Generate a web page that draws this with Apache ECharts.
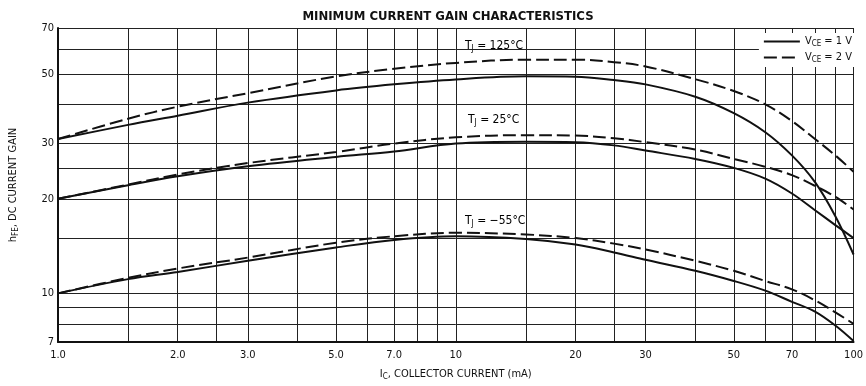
<!DOCTYPE html>
<html><head><meta charset="utf-8">
<script src="https://cdn.jsdelivr.net/npm/echarts@6/dist/echarts.min.js"></script>
<style>html,body{margin:0;padding:0;background:#fff}#c{width:866px;height:386px}</style>
</head><body><div id="c"></div>
<script>
const collectorCurrent = [1, 1.5, 2, 3, 5, 7, 10, 15, 20, 25, 30, 40, 50, 60, 70, 80, 90, 100];
const gain125_1V = [31, 34.4, 36.8, 40.5, 44.3, 46.3, 48.0, 49.1, 49.0, 47.8, 46.3, 42.3, 37.5, 32.6, 27.5, 22.6, 17.6, 13.3];
const gain125_2V = [31, 36.0, 39.3, 43.4, 49.1, 51.9, 54.2, 55.5, 55.5, 54.5, 52.8, 48.1, 44.1, 40.0, 35.4, 31.0, 27.5, 24.4];
const gain25_1V  = [20, 22.1, 23.6, 25.4, 27.2, 28.3, 30.0, 30.4, 30.3, 29.6, 28.5, 26.8, 25.1, 23.2, 20.8, 18.4, 16.5, 15.0];
const gain25_2V  = [20, 22.2, 23.9, 26.0, 28.2, 30.0, 31.4, 31.9, 31.8, 31.2, 30.3, 28.7, 26.8, 25.3, 23.8, 22.0, 20.3, 18.5];
const gainM55_1V = [10, 11.1, 11.7, 12.7, 14.0, 14.8, 15.2, 14.9, 14.3, 13.5, 12.8, 11.8, 10.95, 10.2, 9.4, 8.75, 7.9, 7.05];
const gainM55_2V = [10, 11.2, 12.0, 13.0, 14.5, 15.2, 15.6, 15.4, 15.0, 14.4, 13.8, 12.7, 11.8, 10.95, 10.3, 9.5, 8.7, 8.0];

const xGridValues = [1, 1.5, 2, 2.5, 3, 4, 5, 6, 7, 8, 9, 10, 15, 20, 25, 30, 40, 50, 60, 70, 80, 90, 100];
const xLabelValues = [1, 2, 3, 5, 7, 10, 20, 30, 50, 70, 100];
const xLabelTexts = ['1.0', '2.0', '3.0', '5.0', '7.0', '10', '20', '30', '50', '70', '100'];
const yGridValues = [7, 8, 9, 10, 15, 20, 25, 30, 40, 50, 60, 70];
const yLabelValues = [7, 10, 20, 30, 50, 70];
const yLabelTexts = ['7', '10', '20', '30', '50', '70'];

const FONT = "'Liberation Sans Narrow', 'DejaVu Sans Condensed', 'Roboto Condensed', sans-serif";
function pair(v, t) { const m = {}; v.forEach((x, i) => m[Math.round(x * 100) / 100] = t[i]); return m; }
const xMap = pair(xLabelValues, xLabelTexts), yMap = pair(yLabelValues, yLabelTexts);

const rich = {
  n: { fontFamily: FONT, fontSize: 11, color: '#111' },
  s: { fontFamily: FONT, fontSize: 8, color: '#111', padding: [5, 0, 0, 0] }
};
const richBig = {
  n: { fontFamily: FONT, fontSize: 12, color: '#111' },
  s: { fontFamily: FONT, fontSize: 8, color: '#111', padding: [6, 0, 0, 0] }
};

function line(name, data, dashed) {
  return {
    type: 'line', name: name, symbol: 'none', smooth: 0.35, silent: true,
    data: collectorCurrent.map((x, i) => [x, data[i]]),
    lineStyle: { color: '#111', width: 2, type: dashed ? [13, 5] : 'solid' },
    itemStyle: { color: '#111' }
  };
}

const chart = echarts.init(document.getElementById('c'));
chart.setOption({
  animation: false,
  backgroundColor: '#fff',
  title: {
    text: 'MINIMUM CURRENT GAIN CHARACTERISTICS', left: 443, top: 5, textAlign: 'center',
    textStyle: { fontFamily: FONT, fontSize: 13, fontWeight: 'bold', color: '#111' }
  },
  grid: { left: 55, right: 9, top: 28, bottom: 41 },
  legend: {
    data: ['VCE1', 'VCE2'], orient: 'vertical', right: 10, top: 33,
    backgroundColor: '#fff', padding: [3, 4, 3, 4], itemGap: 4,
    itemWidth: 36, itemHeight: 10,
    itemStyle: { opacity: 0 },
    formatter: n => n === 'VCE1' ? '{n|V}{s|CE}{n| = 1 V}' : '{n|V}{s|CE}{n| = 2 V}',
    textStyle: { rich: rich }
  },
  xAxis: {
    type: 'log', logBase: 10, min: 1, max: 100,
    name: '{n|I}{s|C}{n|, COLLECTOR CURRENT (mA)}', nameLocation: 'middle', nameGap: 26,
    nameTextStyle: { rich: rich },
    axisLine: { show: true, onZero: false, lineStyle: { color: '#111', width: 2 } },
    axisTick: { show: false, customValues: xGridValues },
    axisLabel: { customValues: xLabelValues, fontFamily: FONT, fontSize: 11, color: '#111', margin: 8,
      formatter: v => xMap[Math.round(v * 100) / 100] || '' },
    splitLine: { show: true, lineStyle: { color: '#222', width: 1 } },
    minorSplitLine: { show: false }
  },
  yAxis: {
    type: 'log', logBase: 10, min: 7, max: 70,
    name: '{n|h}{s|FE}{n|, DC CURRENT GAIN}', nameLocation: 'middle', nameGap: 38, nameRotate: 90,
    nameTextStyle: { rich: rich },
    axisLine: { show: true, onZero: false, lineStyle: { color: '#111', width: 2 } },
    axisTick: { show: false, customValues: yGridValues },
    axisLabel: { customValues: yLabelValues, fontFamily: FONT, fontSize: 11, color: '#111', margin: 4,
      formatter: v => yMap[Math.round(v * 100) / 100] || '' },
    splitLine: { show: true, lineStyle: { color: '#222', width: 1 } }
  },
  series: [
    line('VCE1', gain125_1V, false), line('VCE2', gain125_2V, true),
    line('VCE1', gain25_1V, false), line('VCE2', gain25_2V, true),
    line('VCE1', gainM55_1V, false), line('VCE2', gainM55_2V, true)
  ],
  graphic: [
    { type: 'text', left: 460, top: 38, style: { text: '{n|T}{s|J}{n| = 125°C}', rich: richBig, backgroundColor: '#fff', padding: [1, 5] } },
    { type: 'text', left: 463, top: 112, style: { text: '{n|T}{s|J}{n| = 25°C}', rich: richBig, backgroundColor: '#fff', padding: [1, 5] } },
    { type: 'text', left: 460, top: 213, style: { text: '{n|T}{s|J}{n| = −55°C}', rich: richBig, backgroundColor: '#fff', padding: [1, 5] } }
  ]
});
</script></body></html>
